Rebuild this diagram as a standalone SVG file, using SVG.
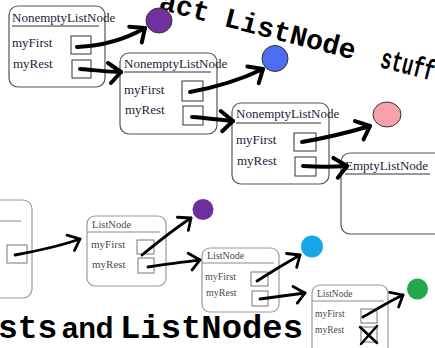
<svg xmlns="http://www.w3.org/2000/svg" width="435" height="348" viewBox="0 0 435 348">
<defs>
<style>
.node{fill:#fff;stroke:#555;stroke-width:1.2}
.nodeg{fill:#fff;stroke:#9a9a9a;stroke-width:1.2}
.t{font-family:"Liberation Serif","Times New Roman",serif;font-size:13px;fill:#1c1c3a}
.tg{font-family:"Liberation Serif","Times New Roman",serif;fill:#4a4a4a}
.ul{stroke:#333;stroke-width:1}
.ulg{stroke:#8a8a8a;stroke-width:1}
.box{fill:#fff;stroke:#333;stroke-width:1}
.boxg{fill:#fff;stroke:#777;stroke-width:1}
.arr{fill:none;stroke:#000;stroke-width:4;stroke-linecap:round;marker-end:url(#ah)}
.arrs{fill:none;stroke:#000;stroke-width:2.8;stroke-linecap:round;marker-end:url(#ahs)}
.dot{stroke:#333;stroke-width:1}
.big{font-family:"Liberation Mono","Courier New",monospace;font-weight:bold;fill:#000}
</style>
<marker id="ah" markerWidth="1" markerHeight="1" refX="0" refY="0" orient="auto" markerUnits="userSpaceOnUse" overflow="visible">
<path d="M-13,-9 L0,0 L-10,11" fill="none" stroke="#000" stroke-width="4" stroke-linecap="round" stroke-linejoin="round"/>
</marker>
<marker id="ahs" markerWidth="1" markerHeight="1" refX="0" refY="0" orient="auto" markerUnits="userSpaceOnUse" overflow="visible">
<path d="M-11,-8 L0,0 L-9,9" fill="none" stroke="#000" stroke-width="2.8" stroke-linecap="round" stroke-linejoin="round"/>
</marker>
</defs>
<rect x="0" y="0" width="435" height="348" fill="#fff"/>

<!-- background titles -->
<text class="big" font-size="28" transform="translate(158,9) rotate(14.5)">act ListNode</text>
<text class="big" font-size="29" transform="translate(379,67) rotate(14.5)" textLength="55" lengthAdjust="spacingAndGlyphs">stuff</text>
<text class="big" x="-2" y="338" font-size="33">sts</text>
<text x="62" y="338" font-family="Liberation Sans, Arial, sans-serif" font-weight="bold" font-size="29" fill="#000">and</text>
<text class="big" x="120" y="338" font-size="33" textLength="183" lengthAdjust="spacingAndGlyphs">ListNodes</text>

<!-- top nodes -->
<g id="node1">
<rect class="node" x="9" y="6" width="96" height="81" rx="9"/>
<text class="t" x="12" y="22">NonemptyListNode</text>
<line class="ul" x1="12" y1="26" x2="99" y2="26"/>
<text class="t" x="12" y="47">myFirst</text>
<text class="t" x="13" y="68">myRest</text>
<rect class="box" x="71" y="36" width="20" height="18"/>
<rect class="box" x="72" y="60" width="19" height="18"/>
</g>
<g id="circle1"><ellipse class="dot" cx="159" cy="20.5" rx="13" ry="12.5" fill="#7030a0"/></g>

<g id="node2">
<rect class="node" x="120" y="53" width="97" height="81" rx="9"/>
<text class="t" x="124" y="68">NonemptyListNode</text>
<line class="ul" x1="124" y1="72" x2="211" y2="72"/>
<text class="t" x="124" y="94">myFirst</text>
<text class="t" x="125" y="114">myRest</text>
<rect class="box" x="182" y="81" width="21" height="20"/>
<rect class="box" x="183" y="106" width="20" height="19"/>
</g>
<g id="circle2"><ellipse class="dot" cx="275" cy="58.5" rx="13" ry="13" fill="#4d6cf0"/></g>

<g id="node3">
<rect class="node" x="232" y="103" width="97" height="81" rx="9"/>
<text class="t" x="236" y="118">NonemptyListNode</text>
<line class="ul" x1="236" y1="123" x2="321" y2="123"/>
<text class="t" x="236" y="144">myFirst</text>
<text class="t" x="237" y="165">myRest</text>
<rect class="box" x="294" y="133" width="22" height="18"/>
<rect class="box" x="295" y="157" width="21" height="19"/>
</g>
<g id="circle3"><ellipse class="dot" cx="387" cy="114.5" rx="14" ry="12.5" fill="#f7a1aa"/></g>

<g id="emptynode">
<rect class="node" x="341" y="153" width="104" height="81" rx="9"/>
<text class="t" x="345" y="170">EmptyListNode</text>
<line class="ul" x1="345" y1="174" x2="430" y2="174"/>
</g>

<!-- bottom nodes -->
<g id="nodeLeft">
<rect class="nodeg" x="-30" y="200" width="62" height="98" rx="9"/>
<line class="ulg" x1="0" y1="221" x2="21" y2="221"/>
<rect class="boxg" x="7" y="245" width="20" height="18"/>
</g>

<g id="listnode1">
<rect class="nodeg" x="87" y="216" width="79" height="70" rx="8"/>
<text class="tg" x="92" y="228" font-size="10.5">ListNode</text>
<line class="ulg" x1="87" y1="232" x2="160" y2="232"/>
<text class="tg" x="91" y="248" font-size="11">myFirst</text>
<text class="tg" x="92" y="268" font-size="11">myRest</text>
<rect class="boxg" x="137" y="240" width="17" height="14"/>
<rect class="boxg" x="138" y="258" width="16" height="15"/>
</g>
<g id="circle4"><circle cx="203" cy="209.5" r="10.5" fill="#6d2e9f"/></g>

<g id="listnode2">
<rect class="nodeg" x="202" y="248" width="77" height="64" rx="8"/>
<text class="tg" x="207" y="259" font-size="10">ListNode</text>
<line class="ulg" x1="202" y1="263" x2="274" y2="263"/>
<text class="tg" x="205" y="280" font-size="10">myFirst</text>
<text class="tg" x="206" y="296" font-size="10">myRest</text>
<rect class="boxg" x="251" y="272" width="17" height="14"/>
<rect class="boxg" x="252" y="291" width="16" height="15"/>
</g>
<g id="circle5"><circle cx="312" cy="246.5" r="11" fill="#17a6ea"/></g>

<g id="listnode3">
<rect class="nodeg" x="312" y="285" width="76" height="75" rx="8"/>
<text class="tg" x="317" y="297" font-size="9.5">ListNode</text>
<line class="ulg" x1="312" y1="301" x2="384" y2="301"/>
<text class="tg" x="315" y="317" font-size="9.5">myFirst</text>
<text class="tg" x="315" y="333" font-size="9.5">myRest</text>
<rect class="boxg" x="361" y="309" width="16" height="14"/>
<rect class="boxg" x="361" y="327" width="16" height="15"/>
<path d="M360,327 L377,343 M377,326 L361,344" stroke="#000" stroke-width="2.5" fill="none" stroke-linecap="round"/>
</g>
<g id="circle6"><circle cx="417.5" cy="289" r="10.5" fill="#22a84a"/></g>

<!-- connectors -->
<g id="connectors">
<path class="arr" d="M77,47 C100,46 124,40 145,28"/>
<path class="arr" d="M80,69 C95,70 108,72 121,72"/>
<path class="arr" d="M190,92 C212,88 240,80 263,69"/>
<path class="arr" d="M192,117 C207,118 220,120 233,121"/>
<path class="arr" d="M302,142 C325,138 350,132 370,126"/>
<path class="arr" d="M303,166 C318,167 333,167 347,166"/>
<path class="arrs" d="M15,255 C37,251 60,246 80,239"/>
<path class="arrs" d="M142,255 C158,242 174,229 191,218"/>
<path class="arrs" d="M148,267 C165,264 183,262 200,260"/>
<path class="arrs" d="M257,281 C271,272 286,263 300,255"/>
<path class="arrs" d="M260,299 C275,297 290,295 305,293"/>
<path class="arrs" d="M363,317 C377,309 390,301 403,295"/>
</g>
</svg>
